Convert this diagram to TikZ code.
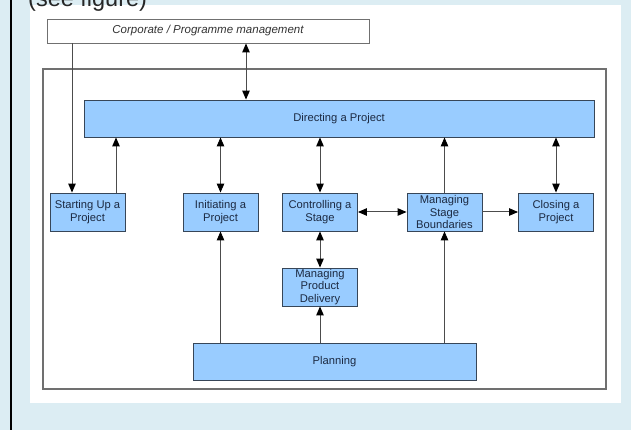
\documentclass[tikz,border=0pt]{standalone}
\usepackage{fontspec}
\setmainfont{Liberation Sans}
\usetikzlibrary{arrows.meta}

\definecolor{pagebg}{RGB}{220,237,243}
\definecolor{procfill}{RGB}{153,204,255}
\definecolor{procline}{RGB}{55,70,88}
\definecolor{proctext}{RGB}{28,42,66}
\definecolor{framegray}{RGB}{112,112,112}

\begin{document}
\begin{tikzpicture}[x=1pt,y=-1pt,
  >={Triangle[length=9pt,width=7.5pt,color=black]},
  proc/.style={draw=procline,fill=procfill,text=proctext,line width=0.9pt,inner sep=0pt,
    minimum width=75pt,minimum height=38pt,align=center,font=\fontsize{11.2}{12.8}\selectfont},
  link/.style={draw=black!70,line width=1pt}]
				\useasboundingbox (0,0) rectangle (631,430);
				\fill[pagebg] (0,0) rectangle (631,430);
				\fill[white] (30,5) rectangle (621,403);
				\fill[black] (10,0) rectangle (12,430);
				\node[anchor=base west,inner sep=0pt,text=black!85,font=\fontsize{23.5}{26}\selectfont] (see) at (28,7) {(see figure)};
				\draw[framegray,line width=1.3pt] (43,69) rectangle (606,389);
				
				\node[draw=framegray,fill=white,line width=0.9pt,inner sep=0pt,minimum width=322pt,minimum height=24pt,
					text=black!80,font=\fontsize{11.5}{13}\selectfont\itshape] (corp) at (208,31) {Corporate / Programme management};
				\node[proc,minimum width=510pt,minimum height=37pt] (dir) at (339,118.5) {Directing a Project};
				
				\node[proc] (su) at (87.5,212) {Starting Up a\\Project};
				\node[proc] (ini) at (220.5,212) {Initiating a\\Project};
				\node[proc] (ctl) at (320,212) {Controlling a\\Stage};
				\node[proc] (msb) at (444.5,212) {Managing\\Stage\\Boundaries};
				\node[proc] (clo) at (556,212) {Closing a\\Project};
				\node[proc] (mpd) at (320,287) {Managing\\Product\\Delivery};
				\node[proc,minimum width=283pt,minimum height=37pt] (plan) at (334.5,361.5) {Planning};
				
				\coordinate (sudown) at (72,0);
				\coordinate (suup) at (116,0);
				\coordinate (corpdir) at (246,0);
				\draw[link,->] (corp.south -| sudown) -- (su.north -| sudown);
				\draw[link,->] (su.north -| suup) -- (dir.south -| suup);
				\draw[link,<->] (corp.south -| corpdir) -- (dir.north -| corpdir);
				\foreach \p in {ini,ctl,clo} {
					\draw[link,<->] (\p.north) -- (dir.south -| \p);
				}
				\draw[link,->] (msb.north) -- (dir.south -| msb);
				\draw[link,<->] (ctl) -- (msb);
				\draw[link,->] (msb) -- (clo);
				\draw[link,<->] (ctl) -- (mpd);
				\foreach \p in {ini,mpd,msb} {
					\draw[link,->] (plan.north -| \p) -- (\p.south);
				}
\end{tikzpicture}
\end{document}
